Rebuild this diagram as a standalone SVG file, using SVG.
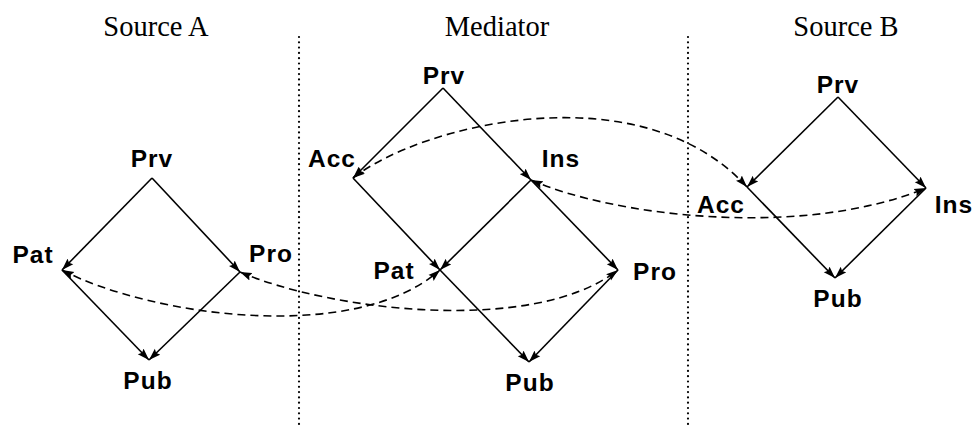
<svg xmlns="http://www.w3.org/2000/svg" width="974" height="426" viewBox="0 0 974 426">
<style>
.title{font-family:"Liberation Serif","Times New Roman",serif;font-size:28.5px;fill:#000;text-anchor:middle}
.lbl{font-family:"Liberation Sans",Arial,sans-serif;font-weight:bold;font-size:24.5px;letter-spacing:1px;fill:#000;text-anchor:middle}
.edge{stroke:#000;stroke-width:1.6;fill:none;marker-end:url(#ah)}
.map{stroke:#000;stroke-width:1.6;fill:none;stroke-dasharray:8 5;marker-end:url(#ah);marker-start:url(#ahs)}
.sep{stroke:#000;stroke-width:2.2;stroke-linecap:round;stroke-dasharray:0 5.3;fill:none}
</style>
<defs>
<marker id="ah" markerUnits="userSpaceOnUse" markerWidth="13" markerHeight="9" refX="12" refY="4.5" orient="auto">
<path d="M0,0.5 L12,4.5 L0,8.5 L2,4.5 z" fill="#000"/>
</marker>
<marker id="ahs" markerUnits="userSpaceOnUse" markerWidth="13" markerHeight="9" refX="12" refY="4.5" orient="auto-start-reverse">
<path d="M0,0.5 L12,4.5 L0,8.5 L2,4.5 z" fill="#000"/>
</marker>
</defs>
<rect width="974" height="426" fill="#fff"/>
<g id="titles">
<text class="title" x="156" y="36">Source A</text>
<text class="title" x="497" y="36">Mediator</text>
<text class="title" x="846" y="36">Source B</text>
</g>
<g id="separators">
<line class="sep" x1="299" y1="37" x2="299" y2="426"/>
<line class="sep" x1="688" y1="37" x2="688" y2="426"/>
</g>
<g id="A_Prv"><text class="lbl" x="152" y="167">Prv</text></g>
<g id="A_Pat"><text class="lbl" x="33" y="263">Pat</text></g>
<g id="A_Pro"><text class="lbl" x="271" y="262">Pro</text></g>
<g id="A_Pub"><text class="lbl" x="148" y="389">Pub</text></g>
<g id="M_Prv"><text class="lbl" x="444" y="84">Prv</text></g>
<g id="M_Acc"><text class="lbl" x="332" y="167">Acc</text></g>
<g id="M_Ins"><text class="lbl" x="561" y="167">Ins</text></g>
<g id="M_Pat"><text class="lbl" x="394" y="279">Pat</text></g>
<g id="M_Pro"><text class="lbl" x="655" y="280">Pro</text></g>
<g id="M_Pub"><text class="lbl" x="530" y="391">Pub</text></g>
<g id="B_Prv"><text class="lbl" x="838" y="93">Prv</text></g>
<g id="B_Acc"><text class="lbl" x="721" y="213">Acc</text></g>
<g id="B_Ins"><text class="lbl" x="954" y="213">Ins</text></g>
<g id="B_Pub"><text class="lbl" x="838" y="307">Pub</text></g>
<g id="connectors">
<line class="edge" x1="152" y1="178" x2="62" y2="270"/>
<line class="edge" x1="152" y1="178" x2="240" y2="272"/>
<line class="edge" x1="62" y1="270" x2="149" y2="360"/>
<line class="edge" x1="240" y1="272" x2="149" y2="360"/>
<line class="edge" x1="443" y1="88" x2="353" y2="178"/>
<line class="edge" x1="443" y1="88" x2="531" y2="180"/>
<line class="edge" x1="353" y1="178" x2="440" y2="270"/>
<line class="edge" x1="531" y1="180" x2="440" y2="270"/>
<line class="edge" x1="531" y1="180" x2="618" y2="270"/>
<line class="edge" x1="440" y1="270" x2="529" y2="362"/>
<line class="edge" x1="618" y1="270" x2="529" y2="362"/>
<line class="edge" x1="838" y1="97" x2="747" y2="187"/>
<line class="edge" x1="838" y1="97" x2="926" y2="188"/>
<line class="edge" x1="747" y1="187" x2="835" y2="278"/>
<line class="edge" x1="926" y1="188" x2="835" y2="278"/>
<path class="map" d="M62,270 C150,316 355,345 440,270"/>
<path class="map" d="M240,272 C328,310 533,336 618,270"/>
<path class="map" d="M353,178 C420,125 640,70 747,187"/>
<path class="map" d="M531,180 C610,215 800,240 926,188"/>
</g>
</svg>
